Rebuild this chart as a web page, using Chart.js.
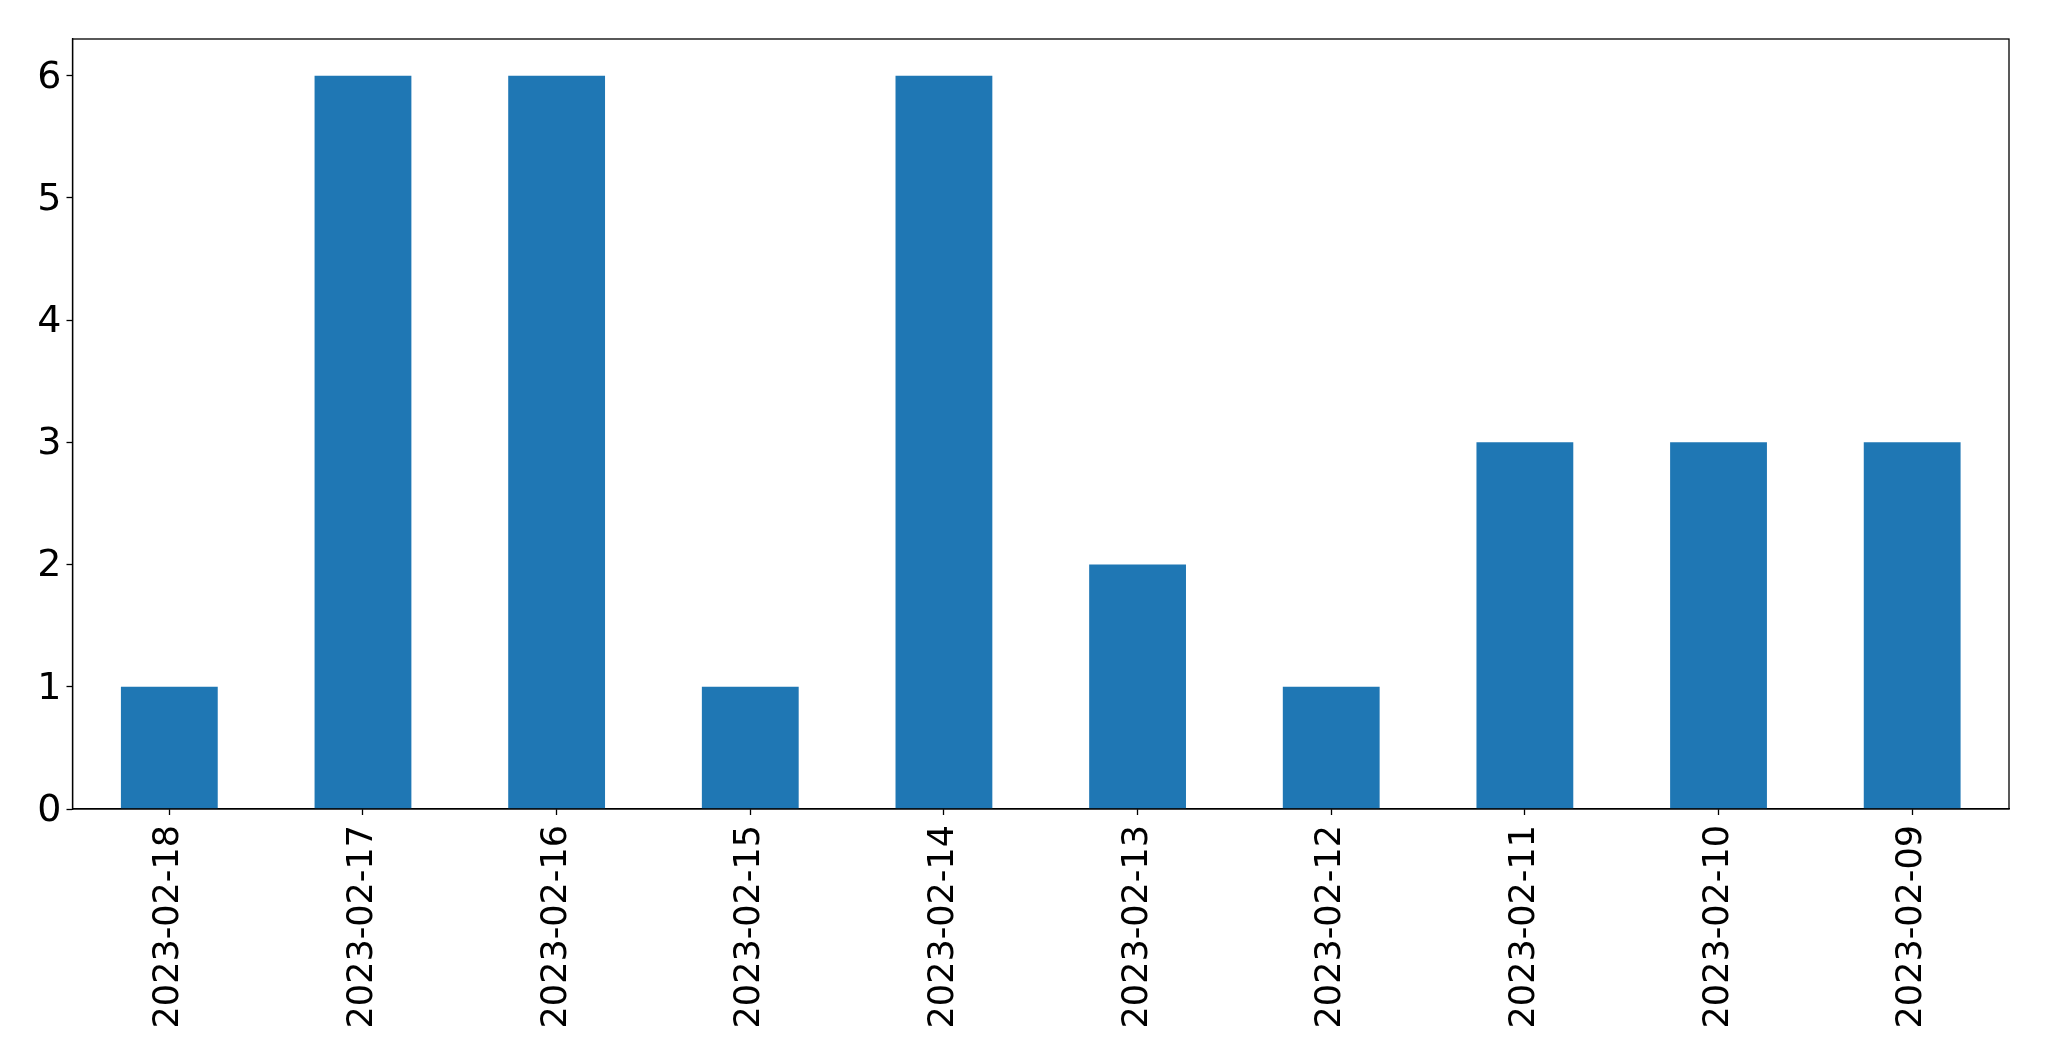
<!DOCTYPE html>
<html>
<head>
<meta charset="utf-8">
<script src="https://cdn.jsdelivr.net/npm/chart.js@4/dist/chart.umd.min.js"></script>
<style>
  html, body { margin: 0; padding: 0; background: #fff; }
  #wrap { width: 2049px; height: 1061px; }
</style>
</head>
<body>
<div id="wrap"><canvas id="bar-chart"></canvas></div>
<script>
  const dates = ['2023-02-18','2023-02-17','2023-02-16','2023-02-15','2023-02-14',
                 '2023-02-13','2023-02-12','2023-02-11','2023-02-10','2023-02-09'];
  const counts = [1, 6, 6, 1, 6, 2, 1, 3, 3, 3];
  const yTicks = [0, 1, 2, 3, 4, 5, 6];

  // top and right spines, like a matplotlib frame
  const frame = {
    id: 'frame',
    afterDraw(chart) {
      const a = chart.chartArea, c = chart.ctx;
      c.save();
      c.strokeStyle = '#000';
      c.lineWidth = 1.3;
      c.strokeRect(a.left, a.top, a.right - a.left, a.bottom - a.top);
      c.restore();
    }
  };

  const barX = document.getElementById('bar-chart');
  const barChart = new Chart(barX, {
    type: 'bar',
    data: {
      labels: dates,
      datasets: [{
        data: counts,
        backgroundColor: '#1f77b4',
        borderWidth: 0,
        categoryPercentage: 0.5,
        barPercentage: 1.0
      }]
    },
    options: {
      responsive: true,
      maintainAspectRatio: false,
      animation: false,
      layout: { padding: { top: 39, right: 40, left: 0, bottom: 0 } },
      plugins: {
        legend: { display: false },
        tooltip: { enabled: false }
      },
      scales: {
        x: {
          grid: { display: true, offset: false, drawOnChartArea: false, tickLength: 6, color: '#000', tickWidth: 1.3 },
          border: { display: true, color: '#000', width: 1.3 },
          ticks: {
            color: '#000',
            minRotation: 90,
            maxRotation: 90,
            autoSkip: false,
            padding: 10,
            font: { family: 'DejaVu Sans', size: 35 }
          },
          afterFit(scale) { scale.height = 252; }
        },
        y: {
          min: 0,
          max: 6.3,
          afterBuildTicks(scale) { scale.ticks = yTicks.map(v => ({ value: v })); },
          grid: { display: true, drawOnChartArea: false, tickLength: 6, color: '#000', tickWidth: 1.3 },
          border: { display: true, color: '#000', width: 1.3 },
          ticks: {
            color: '#000',
            padding: 5,
            labelOffset: 2,
            font: { family: 'DejaVu Sans', size: 38 }
          },
          afterFit(scale) { scale.width = 72.5; }
        }
      }
    },
    plugins: [frame]
  });
</script>
</body>
</html>
